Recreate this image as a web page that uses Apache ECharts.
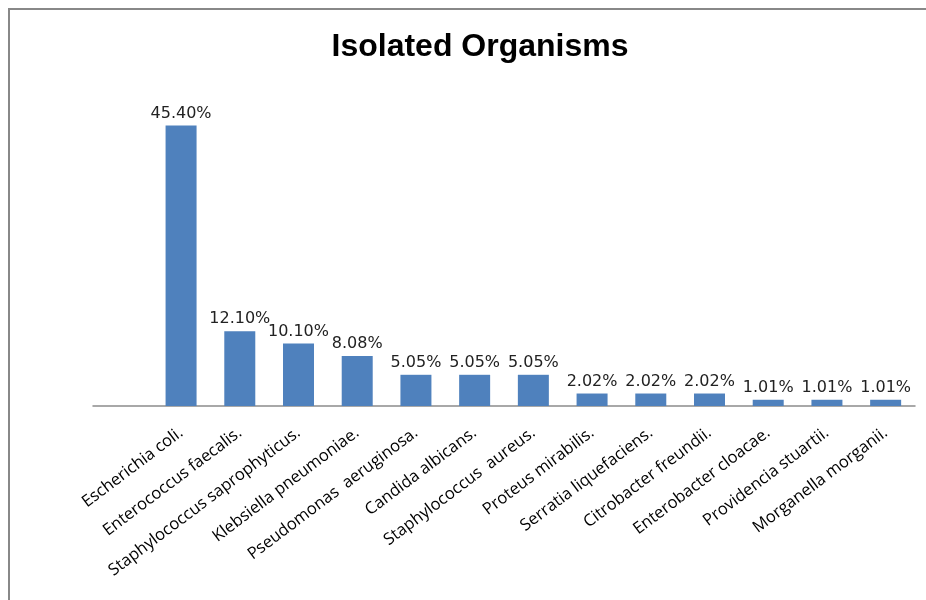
<!DOCTYPE html>
<html>
<head>
<meta charset="utf-8">
<script src="https://cdn.jsdelivr.net/npm/echarts@6/dist/echarts.min.js"></script>
<style>
  body { margin: 0; background: #fff; }
  #wrap { position: relative; width: 926px; height: 600px; overflow: hidden; }
  #frame { position: absolute; left: 8px; top: 8px; width: 930px; height: 600px;
           border-top: 2px solid #888; border-left: 2px solid #888; }
  #organisms { position: absolute; left: 0; top: 0; width: 926px; height: 600px; }
</style>
</head>
<body>
<div id="wrap">
  <div id="frame"></div>
  <div id="organisms"></div>
</div>
<script>
// first category is empty in the original sheet
var organisms = [
  "",
  "Escherichia coli.",
  "Enterococcus faecalis.",
  "Staphylococcus saprophyticus.",
  "Klebsiella pneumoniae.",
  "Pseudomonas  aeruginosa.",
  "Candida albicans.",
  "Staphylococcus  aureus.",
  "Proteus mirabilis.",
  "Serratia liquefaciens.",
  "Citrobacter freundii.",
  "Enterobacter cloacae.",
  "Providencia stuartii.",
  "Morganella morganii."
];
var percents = [null, 45.40, 12.10, 10.10, 8.08, 5.05, 5.05, 5.05, 2.02, 2.02, 2.02, 1.01, 1.01, 1.01];

var myChart = echarts.init(document.getElementById("organisms"));
var option = {
  animation: false,
  title: {
    text: "Isolated Organisms",
    left: 475,
    textAlign: "center",
    top: 26,
    textStyle: {
      fontFamily: "Liberation Sans",
      fontWeight: "bold",
      fontSize: 32,
      color: "#000"
    }
  },
  grid: {
    left: 93,
    right: 11,
    top: 97,
    bottom: 194,
    containLabel: false
  },
  xAxis: {
    type: "category",
    data: organisms,
    axisLine: { lineStyle: { color: "#8c8c8c", width: 1.5 } },
    axisTick: { show: false },
    axisLabel: {
      interval: 0,
      rotate: 37,
      margin: 25,
      fontFamily: "Open Sans",
      fontSize: 16.5,
      color: "#000"
    }
  },
  yAxis: {
    type: "value",
    min: 0,
    max: 50,
    show: false
  },
  series: [
    {
      type: "bar",
      data: percents,
      barWidth: 31,
      itemStyle: { color: "#4F81BD" },
      label: {
        show: true,
        position: "top",
        distance: 4,
        fontFamily: "DejaVu Sans",
        fontSize: 16,
        color: "#222",
        formatter: function (p) {
          return p.value.toFixed(2) + "%";
        }
      }
    }
  ]
};
option && myChart.setOption(option);
</script>
</body>
</html>
